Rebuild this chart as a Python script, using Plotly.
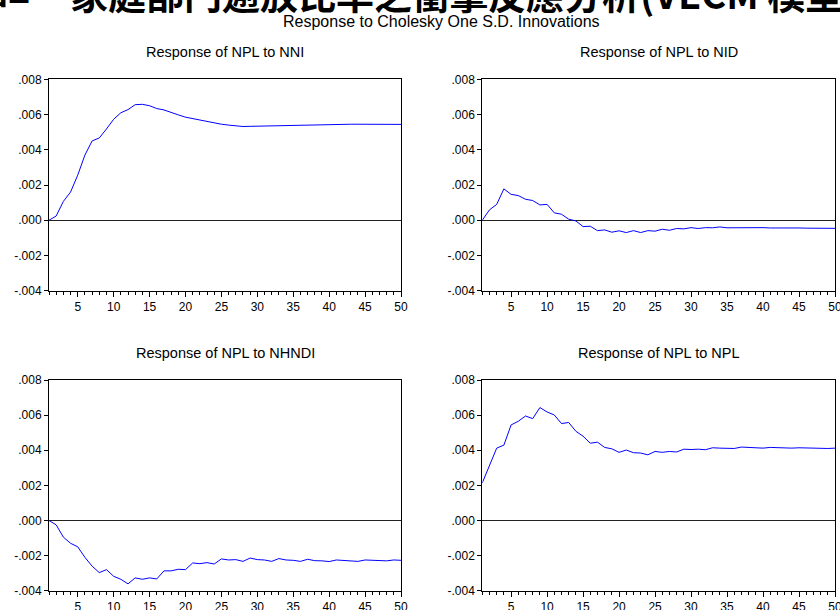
import plotly.graph_objects as go

# Impulse responses of NPL, periods 1..50
periods = list(range(1, 51))

resp_nni = [0.0, 0.00024, 0.00107, 0.0016, 0.00256, 0.0037, 0.0045, 0.00467, 0.00518, 0.00573,
            0.0061, 0.00628, 0.00656, 0.00658, 0.0065, 0.00634, 0.00626, 0.0061, 0.00598, 0.00585,
            0.00577, 0.0057, 0.0056, 0.0055, 0.00545, 0.0054, 0.00535, 0.00532, 0.00533, 0.00534,
            0.00535, 0.00536, 0.00538, 0.0054, 0.0054, 0.00541, 0.00542, 0.00543, 0.00543, 0.00544,
            0.00545, 0.00545, 0.00545, 0.00545, 0.00545, 0.00545, 0.00545, 0.00544, 0.00544, 0.00544]

resp_nid = [0.0, 0.00059, 0.0009, 0.00178, 0.00147, 0.0014, 0.00119, 0.00112, 0.00087, 0.0009,
            0.00042, 0.00034, 0.00006, -0.00004, -0.00036, -0.00034, -0.00059, -0.00055, -0.00068, -0.0006,
            -0.0007, -0.00059, -0.0007, -0.00059, -0.00062, -0.00051, -0.00057, -0.00047, -0.00049, -0.00042,
            -0.00047, -0.00042, -0.00043, -0.00038, -0.00043, -0.00042, -0.00042, -0.0004, -0.00043, -0.00042,
            -0.00044, -0.00043, -0.00044, -0.00045, -0.00044, -0.00045, -0.00045, -0.00046, -0.00045, -0.00046]

resp_nhndi = [0.0, -0.00025, -0.00095, -0.0013, -0.0015, -0.0021, -0.0026, -0.00297, -0.0028, -0.00318,
              -0.00335, -0.00361, -0.00327, -0.00335, -0.00327, -0.00333, -0.00287, -0.00287, -0.00278, -0.0028,
              -0.00242, -0.00246, -0.0024, -0.00248, -0.00219, -0.00225, -0.00223, -0.00233, -0.00214, -0.00223,
              -0.00225, -0.00233, -0.00217, -0.00225, -0.00227, -0.00233, -0.00221, -0.00229, -0.0023, -0.00234,
              -0.00225, -0.00229, -0.0023, -0.00233, -0.00225, -0.00227, -0.00229, -0.0023, -0.00225, -0.00227]

resp_npl = [0.00214, 0.00312, 0.00412, 0.00429, 0.00544, 0.00565, 0.00595, 0.0058, 0.00643, 0.00618,
            0.00601, 0.00552, 0.00558, 0.00508, 0.0048, 0.0044, 0.00446, 0.00416, 0.00408, 0.00388,
            0.00401, 0.00386, 0.00384, 0.00374, 0.00393, 0.00388, 0.00393, 0.0039, 0.00406, 0.00404,
            0.00406, 0.00403, 0.00414, 0.00412, 0.00412, 0.0041, 0.00418, 0.00416, 0.00414, 0.00412,
            0.00416, 0.00414, 0.00412, 0.00412, 0.00414, 0.00412, 0.00412, 0.0041, 0.0041, 0.00412]

panel_titles = ["Response of NPL to NNI", "Response of NPL to NID",
                "Response of NPL to NHNDI", "Response of NPL to NPL"]
y_tickvals = [-0.004, -0.002, 0.0, 0.002, 0.004, 0.006, 0.008]
y_ticktext = ["-.004", "-.002", ".000", ".002", ".004", ".006", ".008"]
main_title = "Response to Cholesky One S.D. Innovations"
caption_lead = "圖2"
caption_text = "家庭部門逾放比率之衝擊反應分析(VECM 模型)"

W, H = 840, 610
FONT = "Liberation Sans, Arial, sans-serif"
CJK = "Noto Sans CJK TC"

# panel frames in pixels: (left, right, top, bottom)
frames = [(49, 401, 79.3, 290.7), (482.3, 835, 79.3, 290.7),
          (49, 401, 380, 590.7), (482.3, 835, 380, 590.7)]
series = [resp_nni, resp_nid, resp_nhndi, resp_npl]

fig = go.Figure()
layout = dict(
    width=W, height=H,
    margin=dict(l=0, r=0, t=0, b=0, pad=0),
    paper_bgcolor="white", plot_bgcolor="white",
    showlegend=False,
    font=dict(family=FONT, size=12, color="black"),
)
annotations = []

for i, (vals, (l, r, t, b)) in enumerate(zip(series, frames)):
    n = i + 1
    xa = "x" if n == 1 else f"x{n}"
    ya = "y" if n == 1 else f"y{n}"
    fig.add_trace(go.Scatter(x=periods, y=vals, mode="lines",
                             line=dict(color="#0000ff", width=1),
                             xaxis=xa, yaxis=ya, hoverinfo="skip"))
    xkey = "xaxis" if n == 1 else f"xaxis{n}"
    ykey = "yaxis" if n == 1 else f"yaxis{n}"
    layout[xkey] = dict(
        domain=[l / W, r / W], anchor=ya, range=[1, 50], automargin=False,
        ticklabeloverflow="allow",
        tick0=0, dtick=5, ticks="outside", ticklen=5, tickcolor="black", tickwidth=1,
        minor=dict(dtick=1, tick0=0, ticks="outside", ticklen=3, tickcolor="black", tickwidth=1),
        showline=True, mirror=True, linecolor="black", linewidth=1,
        showgrid=False, zeroline=False,
        tickfont=dict(family=FONT, size=12, color="black"),
    )
    layout[ykey] = dict(
        domain=[1 - b / H, 1 - t / H], anchor=xa, range=[-0.004, 0.008], automargin=False,
        tickvals=y_tickvals, ticktext=y_ticktext,
        ticks="outside", ticklen=4, tickcolor="black", tickwidth=1,
        showline=True, mirror=True, linecolor="black", linewidth=1,
        showgrid=False, zeroline=True, zerolinecolor="#222222", zerolinewidth=1,
        tickfont=dict(family=FONT, size=12, color="black"),
    )
    annotations.append(dict(
        text=panel_titles[i], xref="paper", yref="paper",
        x=(l + r) / 2 / W, y=1 - (t - 27) / H, xanchor="center", yanchor="middle",
        showarrow=False, font=dict(family=FONT, size=14.5, color="black"),
    ))

annotations.append(dict(
    text=main_title, xref="paper", yref="paper",
    x=441 / W, y=1 - 21 / H, xanchor="center", yanchor="middle",
    showarrow=False, font=dict(family=FONT, size=16, color="black"),
))
annotations.append(dict(
    text=caption_lead, xref="paper", yref="paper",
    x=32 / W, y=1 + 14 / H, xanchor="right", yanchor="middle",
    showarrow=False, font=dict(family=CJK, size=38, color="black", weight="bold"),
))
annotations.append(dict(
    text=caption_text, xref="paper", yref="paper",
    x=68 / W, y=1 + 7 / H, xanchor="left", yanchor="middle",
    showarrow=False, font=dict(family=CJK, size=38, color="black", weight="bold"),
))
layout["annotations"] = annotations

fig.update_layout(**layout)
fig.write_html("out.html")
